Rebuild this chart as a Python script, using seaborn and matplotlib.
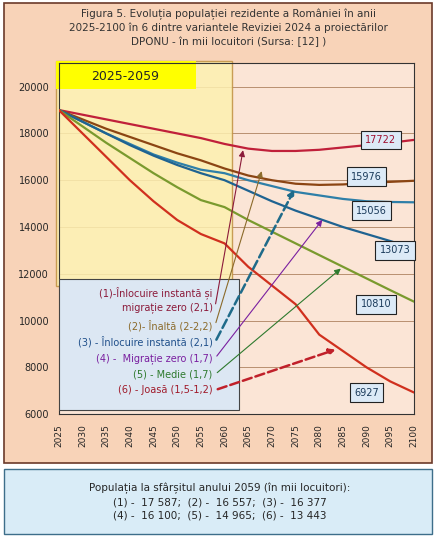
import matplotlib
matplotlib.use("Agg")
import matplotlib.pyplot as plt
import matplotlib.patches as mpatches
import numpy as np
import pandas as pd
import seaborn as sns

sns.set_style("white")
plt.rcParams["font.family"] = ["DejaVu Sans"]

years = list(range(2025, 2101, 5))
s1 = [19000, 18800, 18600, 18400, 18200, 18000, 17800, 17550, 17350, 17250, 17250, 17300, 17400, 17500, 17600, 17722]
s2 = [19000, 18600, 18200, 17850, 17500, 17150, 16850, 16500, 16200, 16000, 15850, 15800, 15820, 15880, 15930, 15976]
s3 = [19000, 18500, 18000, 17550, 17100, 16750, 16450, 16300, 16000, 15750, 15500, 15350, 15200, 15100, 15070, 15056]
s4 = [19000, 18500, 18000, 17500, 17050, 16650, 16300, 16000, 15550, 15100, 14700, 14350, 14000, 13700, 13400, 13073]
s5 = [19000, 18300, 17600, 16950, 16300, 15700, 15150, 14850, 14300, 13800, 13300, 12800, 12300, 11800, 11300, 10810]
s6 = [19000, 18000, 17000, 16000, 15100, 14300, 13700, 13300, 12300, 11500, 10700, 9400, 8700, 8000, 7400, 6927]
end_labels = ["17722", "15976", "15056", "13073", "10810", "6927"]
colors = ["#c0203a", "#8b4513", "#2e7fa8", "#1f6391", "#7a9a2e", "#d0301e"]

df = pd.DataFrame({"year": years, "s1": s1, "s2": s2, "s3": s3, "s4": s4, "s5": s5, "s6": s6})
long = df.melt("year", var_name="serie", value_name="pop")

fig = plt.figure(figsize=(4.39, 5.45), dpi=100)
fig.patch.set_facecolor("white")

# background frames in an axes underneath
bg = fig.add_axes([0, 0, 1, 1], zorder=-5)
bg.set_axis_off()
bg.set_xlim(0, 1)
bg.set_ylim(0, 1)
bg.add_patch(mpatches.Rectangle((0.01, 0.15), 0.975, 0.845, facecolor="#f8d3b8", edgecolor="#6b3a2a", lw=1.2))
bg.add_patch(mpatches.Rectangle((0.01, 0.02), 0.975, 0.12, facecolor="#d9ecf7", edgecolor="#3d6e8a", lw=1))

ax = fig.add_axes([0.134, 0.24, 0.809, 0.644], zorder=1)
ax.set_facecolor("#fbe5d6")
ax.add_patch(mpatches.Rectangle((2024.4, 11500), 37.1, 9600, facecolor="#fdf0b0", edgecolor="#c09040",
                                lw=1, alpha=0.85, zorder=1, clip_on=False))
ax.add_patch(mpatches.Rectangle((2024.4, 19900), 29.5, 1200, facecolor="#ffff00", edgecolor="none",
                                zorder=2, clip_on=False))
ax.text(2039, 20450, "2025-2059", ha="center", va="center", fontsize=9, zorder=3)

sns.lineplot(data=long, x="year", y="pop", hue="serie", palette=colors, lw=1.6, legend=False, ax=ax, zorder=4)

ax.set_xlim(2025, 2100)
ax.set_ylim(6000, 21000)
ax.set_xticks(years)
ax.set_xticklabels(years, rotation=90, fontsize=6.5)
ax.set_yticks(range(6000, 20001, 2000))
ax.tick_params(axis="y", labelsize=7)
ax.yaxis.grid(True, color="#b89070", lw=0.7)
ax.set_axisbelow(True)
ax.set_xlabel("")
ax.set_ylabel("")
for sp in ax.spines.values():
    sp.set_color("#333333")
    sp.set_linewidth(0.8)

# end value boxes
box_pos = [(2093, 17722), (2090, 16150), (2091, 14700), (2096, 13000), (2092, 10700), (2090, 6927)]
for (bx, by), lab in zip(box_pos, end_labels):
    ax.text(bx, by, lab, ha="center", va="center", fontsize=7,
            color="#a01030" if lab == "17722" else "#1a3a5a",
            bbox=dict(boxstyle="square,pad=0.45", fc="#dceaf7", ec="#222222", lw=0.8), zorder=6)

# legend box
ax.add_patch(mpatches.Rectangle((2025, 6200), 38, 5570, facecolor="#dce7f3", edgecolor="#444444",
                                lw=0.8, zorder=5))
leg = [
    ("(1)-Înlocuire instantă și\nmigrație zero (2,1)", 10900, "#8b1a3a", (2064, 17400), "-"),
    ("(2)- Înaltă (2-2,2)", 9800, "#8b6a2a", (2068, 16500), "-"),
    ("(3) - Înlocuire instantă (2,1)", 9080, "#1f4f8a", (2075, 15700), "--"),
    ("(4) -  Migrație zero (1,7)", 8390, "#7a1fa0", (2081, 14400), "-"),
    ("(5) - Medie (1,7)", 7700, "#2e7a2e", (2085, 12300), "-"),
    ("(6) - Joasă (1,5-1,2)", 7030, "#a01a2a", (2084, 8800), "--"),
]
for txt, ty, c, tgt, ls in leg:
    ax.text(2057.5, ty, txt, ha="right", va="center", fontsize=7, color=c, zorder=7, linespacing=1.3)
    lw = 1.8 if ls == "--" else 0.8
    ac = "#1f6b8a" if txt.startswith("(3)") else ("#c0202a" if txt.startswith("(6)") else c)
    ax.annotate("", xy=tgt, xytext=(2058, ty - (300 if txt.startswith("(1)") else 0)),
                arrowprops=dict(arrowstyle="-|>", color=ac, lw=lw, linestyle=ls, mutation_scale=9),
                zorder=8, annotation_clip=False)

fig.text(0.52, 0.985, "Figura 5. Evoluția populației rezidente a României în anii\n"
         "2025-2100 în 6 dintre variantele Reviziei 2024 a proiectărilor\n"
         "DPONU - în mii locuitori (Sursa: [12] )", ha="center", va="top", fontsize=7.5,
         color="#333333", linespacing=1.4)
fig.text(0.5, 0.08, "Populația la sfârșitul anului 2059 (în mii locuitori):\n"
         "(1) -  17 587;  (2) -  16 557;  (3) -  16 377\n"
         "(4) -  16 100;  (5) -  14 965;  (6) -  13 443", ha="center", va="center",
         fontsize=7.5, linespacing=1.4)

fig.savefig("out.png", dpi=100)
